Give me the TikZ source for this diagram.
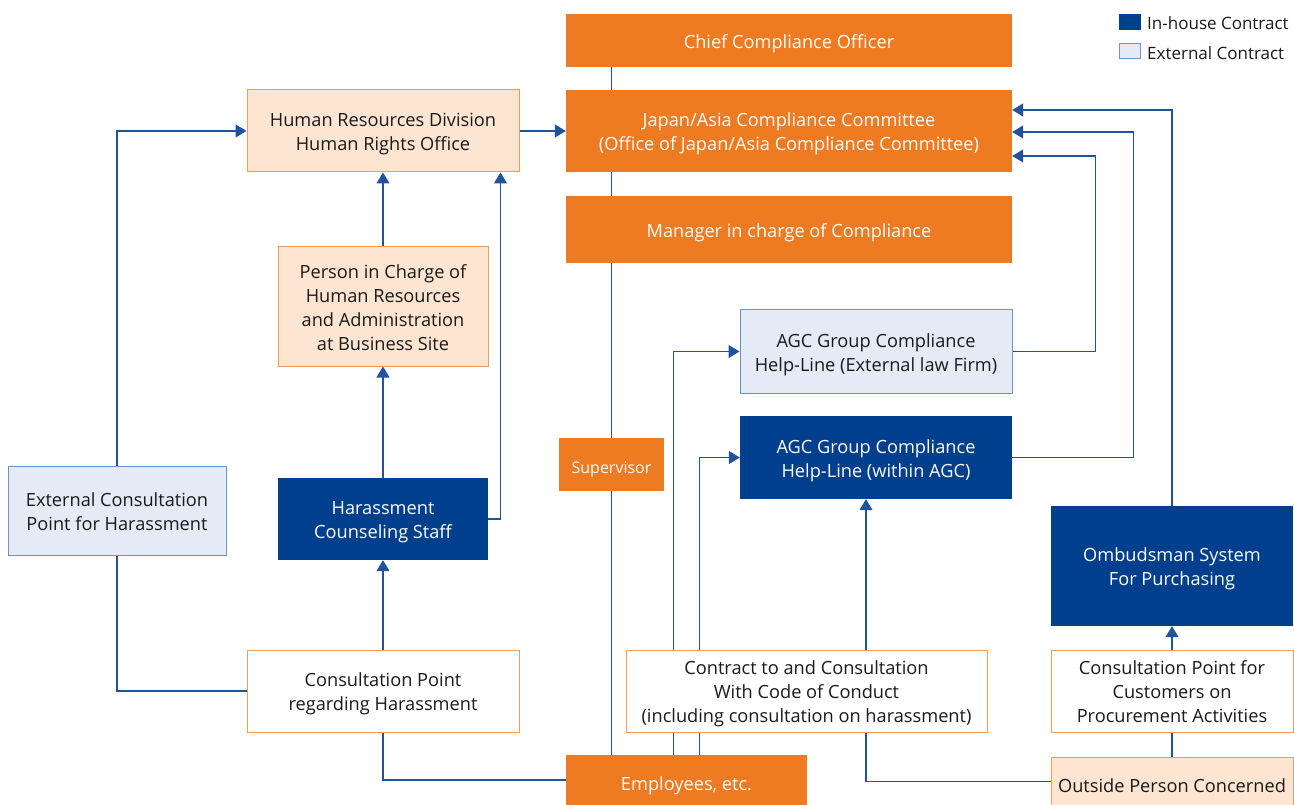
\documentclass[tikz,border=0pt]{standalone}
\usepackage{fontspec}
\setmainfont{Open Sans}
\usetikzlibrary{arrows.meta,backgrounds,calc}
\definecolor{corange}{HTML}{EE7A22}
\definecolor{cpeach}{HTML}{FDE5D1}
\definecolor{cpeachline}{HTML}{F39A55}
\definecolor{cdblue}{HTML}{003F8E}
\definecolor{clblue}{HTML}{E4EAF6}
\definecolor{clbline}{HTML}{6F93C8}
\definecolor{cline}{HTML}{2052A0}
\definecolor{ctext}{HTML}{1A1A1A}
\newcommand{\tx}[2][3pt]{\raisebox{-#1}[\height][\depth]{\begin{tabular}{@{}c@{}}#2\end{tabular}}}
\tikzset{
  box/.style={inner sep=0pt,font=\fontsize{18.2}{24}\selectfont},
  obox/.style={box,fill=corange,text=white},
  pbox/.style={box,fill=cpeach,draw=cpeachline,line width=1pt,text=ctext},
  wbox/.style={box,fill=white,draw=cpeachline,line width=1pt,text=ctext},
  dbox/.style={box,fill=cdblue,text=white},
  lbox/.style={box,fill=clblue,draw=clbline,line width=1pt,text=ctext},
  legtext/.style={box,anchor=west,text=ctext,font=\fontsize{17}{20}\selectfont},
  conn/.style={draw=cline,line width=1.1pt},
  arr/.style={conn,-{Triangle[length=11pt,width=13pt]}},
}
\begin{document}
\begin{tikzpicture}[x=1pt,y=-1pt]
\useasboundingbox (0,0) rectangle (1294,805);
% nodes
\node[obox,minimum width=446pt,minimum height=53pt] (chief) at (789,40.5) {\tx{Chief Compliance Officer}};
\node[obox,minimum width=446pt,minimum height=82pt] (jac) at (789,131) {\tx{Japan/Asia Compliance Committee\\(Office of Japan/Asia Compliance Committee)}};
\node[obox,minimum width=446pt,minimum height=67pt] (mgr) at (789,229.5) {\tx{Manager in charge of Compliance}};
\node[obox,minimum width=105pt,minimum height=53pt,font=\fontsize{16}{18}\selectfont] (sup) at (611.5,464.5) {\tx[5pt]{Supervisor}};
\node[pbox,minimum width=272pt,minimum height=82pt] (hr) at (383,131) {\tx{Human Resources Division\\Human Rights Office}};
\node[pbox,minimum width=210pt,minimum height=119pt] (pic) at (383,306.5) {\tx{Person in Charge of\\Human Resources\\and Administration\\at Business Site}};
\node[dbox,minimum width=210pt,minimum height=82pt] (hcs) at (383,519) {\tx{Harassment\\Counseling Staff}};
\node[lbox,minimum width=218pt,minimum height=89pt] (ext) at (117,510.5) {\tx{External Consultation\\Point for Harassment}};
\node[wbox,minimum width=272pt,minimum height=82pt] (cph) at (383,691) {\tx{Consultation Point\\regarding Harassment}};
\node[lbox,minimum width=272pt,minimum height=83pt] (helpext) at (876,351.5) {\tx{AGC Group Compliance\\Help-Line (External law Firm)}};
\node[dbox,minimum width=272pt,minimum height=83pt] (helpin) at (876,457.5) {\tx{AGC Group Compliance\\Help-Line (within AGC)}};
\node[dbox,minimum width=242pt,minimum height=120pt] (omb) at (1172,566) {\tx{Ombudsman System\\For Purchasing}};
\node[wbox,minimum width=361pt,minimum height=82pt] (ccc) at (806.5,691) {\tx{Contract to and Consultation\\With Code of Conduct\\(including consultation on harassment)}};
\node[wbox,minimum width=242pt,minimum height=82pt] (cpc) at (1172,691) {\tx{Consultation Point for\\Customers on\\Procurement Activities}};
\node[pbox,minimum width=242pt,minimum height=48pt] (out) at (1172,781.5) {\tx[6pt]{Outside Person Concerned}};
\node[obox,minimum width=241pt,minimum height=50pt] (emp) at (686.5,780) {\tx[6pt]{Employees, etc.}};
% legend
\node[dbox,draw=cdblue,minimum width=21pt,minimum height=15pt] (leg1) at (1130,22) {};
\node[legtext] (leg1t) at (1147,23) {In-house Contract};
\node[lbox,minimum width=21pt,minimum height=15pt] (leg2) at (1130,51.5) {};
\node[legtext] (leg2t) at (1147,53) {External Contract};
% connectors
\begin{scope}[on background layer]
\draw[conn] (chief.south -| sup) -- (emp.north -| sup);
\draw[arr] (ext.north) |- (hr.west);
\draw[conn] (ext.south) |- (cph.west);
\draw[arr] (hr.east) -- (jac.west);
\draw[arr] (pic.north) -- (hr.south);
\draw[arr] (hcs.north) -- (pic.south);
\draw[arr] (hcs.east) -| ([xshift=-19pt]hr.south east);
\draw[arr] (cph.north) -- (hcs.south);
\draw[conn] (cph.south) |- (emp.west);
\draw[arr] ([xshift=108pt]emp.north west) |- (helpext.west);
\draw[arr] ([xshift=134pt]emp.north west) |- (helpin.west);
\draw[arr] (out.west) -| ([xshift=-10pt]helpin.south);
\draw[arr] (helpext.east) -- ++(83,0) |- ([yshift=-25pt]jac.east);
\draw[arr] (helpin.east) -- ++(121,0) |- ([yshift=-1pt]jac.east);
\draw[arr] (omb.north) |- ([yshift=21pt]jac.east);
\draw[arr] (cpc.north) -- (omb.south);
\draw[conn] (out.north) -- (cpc.south);
\end{scope}
\end{tikzpicture}
\end{document}
